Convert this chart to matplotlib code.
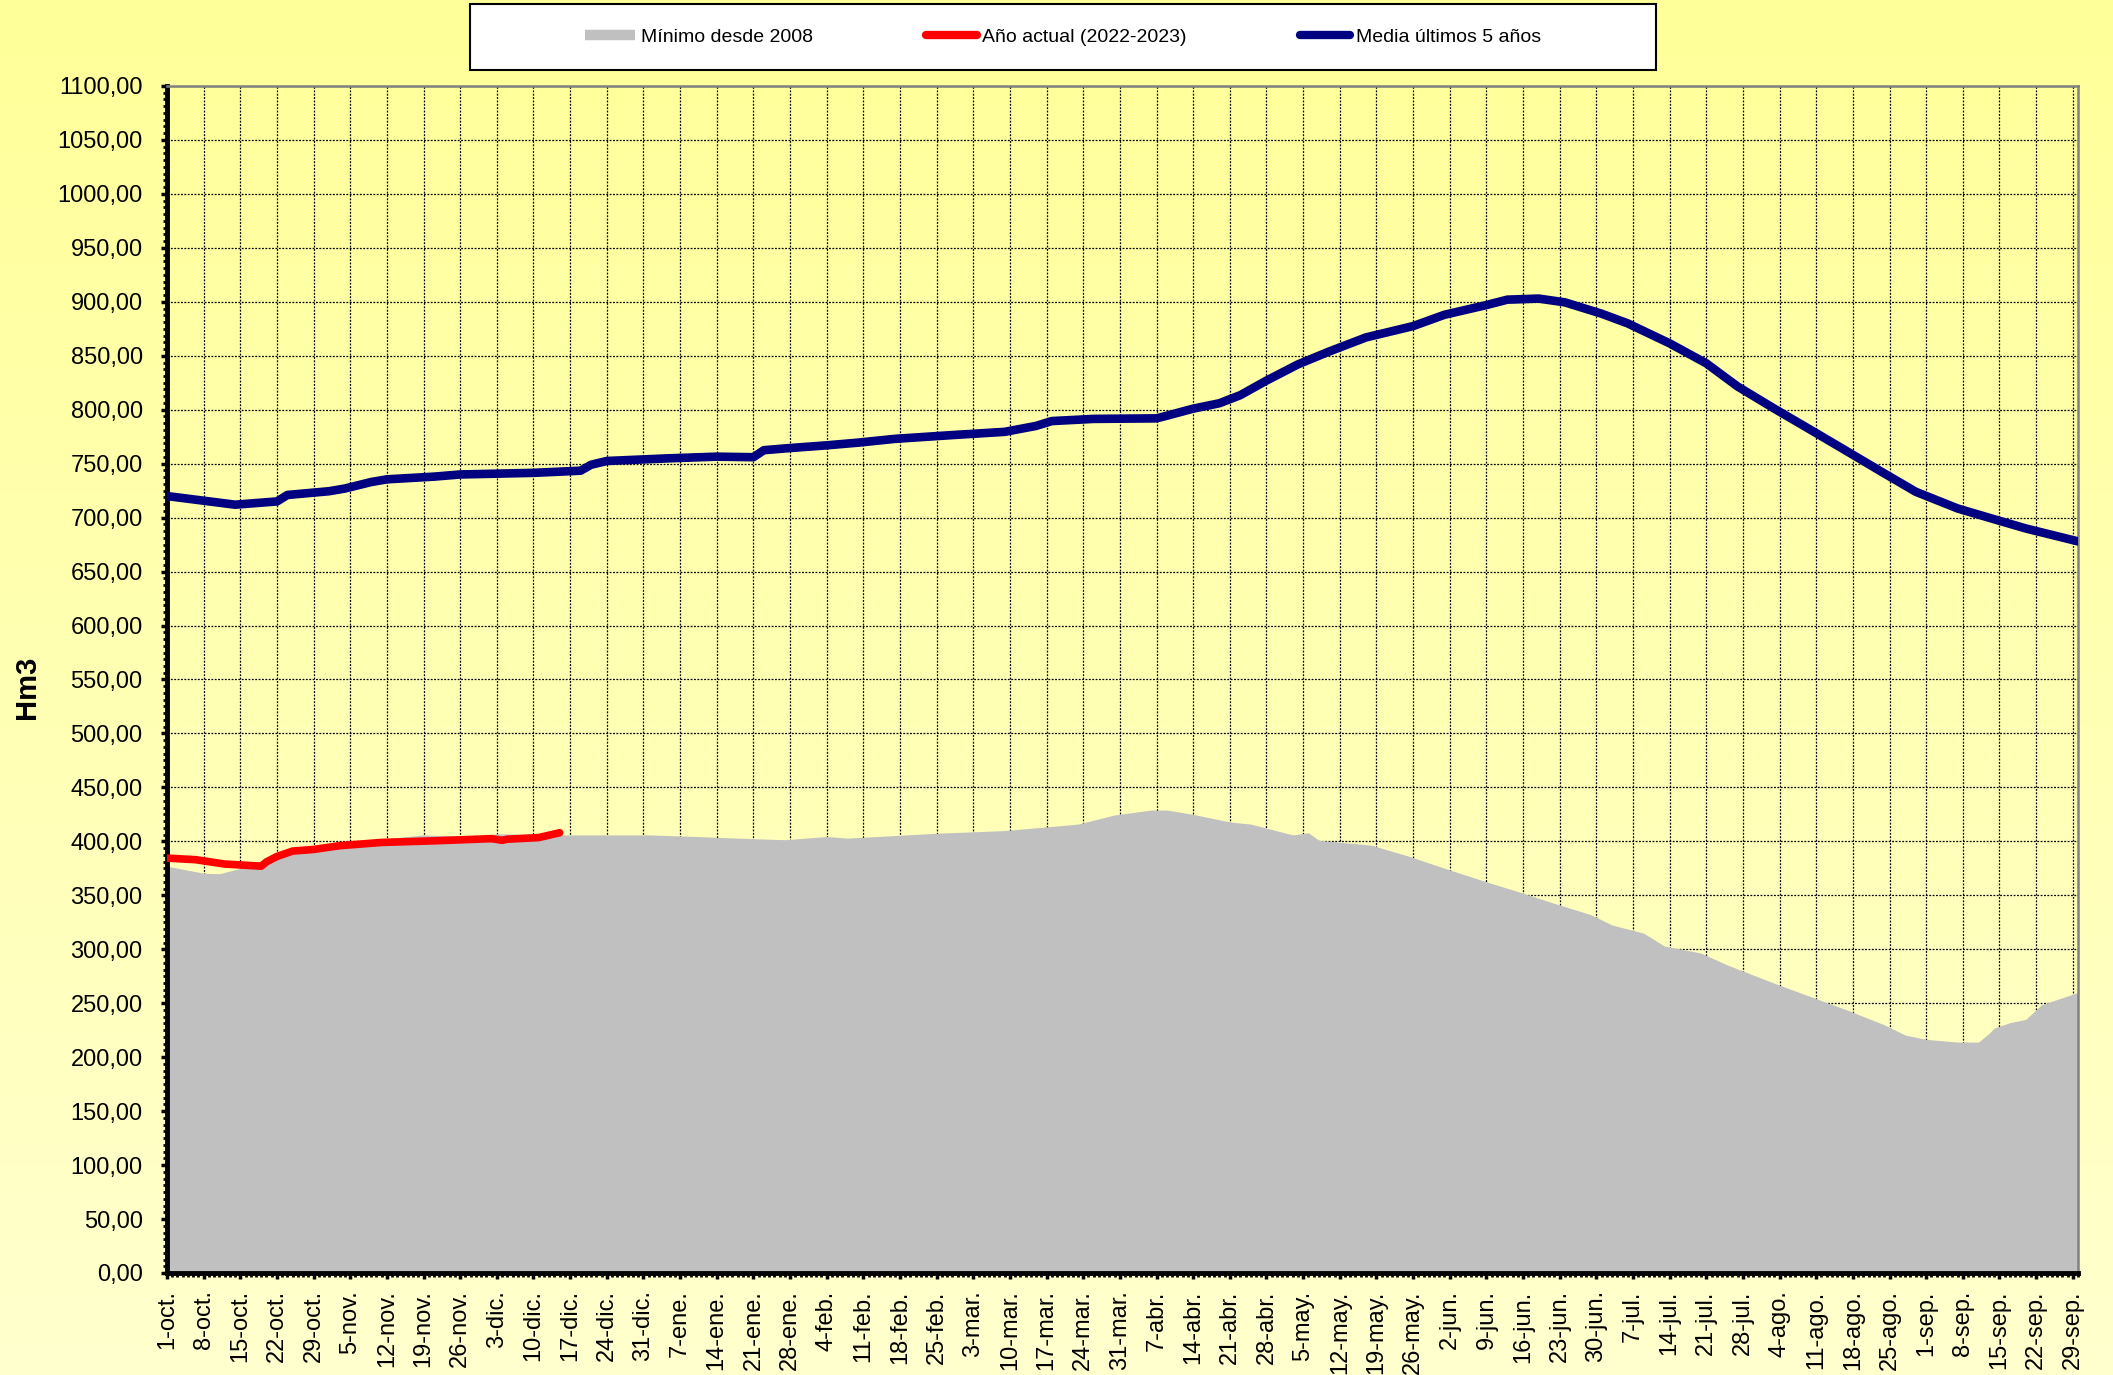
import numpy as np
import matplotlib
matplotlib.use("Agg")
import matplotlib.pyplot as plt
from matplotlib.lines import Line2D
from matplotlib.patches import Rectangle
from matplotlib.ticker import MultipleLocator

plt.rcParams['font.family'] = ['Liberation Sans', 'DejaVu Sans']

# ---------------- data (day index from 1-oct, value in Hm3) ----------------
media_days = [0, 13, 21, 23, 31, 34, 39, 42, 51, 56, 70, 79, 81, 84, 96, 105, 112, 114,
              119, 126, 132, 139, 150, 160, 166, 169, 177, 189, 191, 196, 201, 205, 210,
              216, 222, 229, 238, 244, 252, 256, 262, 267, 274, 279, 287, 294, 300, 307,
              313, 320, 328, 334, 342, 349, 355, 365]
media_vals = [720, 712, 715, 721, 724.5, 727, 733, 735.5, 738, 740, 741.5, 743.5, 749, 752.5,
              755, 756.5, 756, 762.5, 764.5, 767, 769.5, 773, 776.5, 779.5, 785, 789.5, 791.5,
              792, 794.5, 801, 806, 813.5, 827, 842, 854, 867, 877.5, 888, 897, 902, 903,
              899.5, 889, 880, 861.5, 843, 821.5, 801, 784, 764, 741, 724, 708.5, 698.5,
              690, 678]

minimo_days = [0, 7, 10, 14, 19, 24, 33, 43, 49, 58, 63, 75, 84, 92, 101, 109, 118, 126, 130,
               147, 160, 174, 181, 188, 191, 196, 203, 207, 215, 218, 220, 230, 237, 245, 252,
               259, 265, 272, 276, 282, 286, 293, 298, 307, 314, 321, 328, 332, 336, 342, 346,
               348, 349, 352, 355, 358, 365]
minimo_vals = [377, 370.5, 370, 375, 383.5, 390.5, 395, 403, 406, 404.5, 407, 406, 406, 406,
               404.5, 403, 401.5, 404.5, 403, 407.5, 410, 416, 424.5, 429, 429, 425, 418, 416,
               406, 408, 401, 396.5, 386.5, 373.5, 362.5, 352, 342.5, 332, 322.5, 315, 303,
               296.5, 285.5, 268.5, 256, 243.5, 230, 220.5, 216.5, 214, 214, 222, 227, 232,
               235, 248.5, 260]

actual_days = [0, 5.5, 11, 18, 19, 21, 24, 28, 33, 41, 51, 62, 64, 65, 71, 75]
actual_vals = [384.5, 383, 379, 377, 381, 386, 391, 392.5, 396, 399, 400.5, 402.5, 401, 402,
               403.5, 408]

tick_labels = ["1-oct.", "8-oct.", "15-oct.", "22-oct.", "29-oct.", "5-nov.", "12-nov.",
               "19-nov.", "26-nov.", "3-dic.", "10-dic.", "17-dic.", "24-dic.", "31-dic.",
               "7-ene.", "14-ene.", "21-ene.", "28-ene.", "4-feb.", "11-feb.", "18-feb.",
               "25-feb.", "3-mar.", "10-mar.", "17-mar.", "24-mar.", "31-mar.", "7-abr.",
               "14-abr.", "21-abr.", "28-abr.", "5-may.", "12-may.", "19-may.", "26-may.",
               "2-jun.", "9-jun.", "16-jun.", "23-jun.", "30-jun.", "7-jul.", "14-jul.",
               "21-jul.", "28-jul.", "4-ago.", "11-ago.", "18-ago.", "25-ago.", "1-sep.",
               "8-sep.", "15-sep.", "22-sep.", "29-sep."]

series_labels = ["Mínimo desde 2008", "Año actual (2022-2023)", "Media últimos 5 años"]

# ---------------- figure ----------------
W, H, DPI = 2113, 1375, 100
fig = plt.figure(figsize=(W / DPI, H / DPI), dpi=DPI)

# vertical gradient background
bg = fig.add_axes([0, 0, 1, 1], zorder=-10)
top_c = np.array([255, 255, 153]) / 255.0
bot_c = np.array([255, 255, 206]) / 255.0
g = np.linspace(0, 1, 256)[:, None, None]
img = top_c[None, None, :] + (bot_c - top_c)[None, None, :] * g
bg.imshow(img, aspect='auto', extent=[0, 1, 0, 1], origin='upper')
bg.set_axis_off()

ax = fig.add_axes([167 / W, (H - 1273) / H, (2078 - 167) / W, (1273 - 86) / H])
ax.patch.set_alpha(0)

ax.fill_between(minimo_days, 0, minimo_vals, color='#C0C0C0', linewidth=0, zorder=1)
ax.plot(media_days, media_vals, color='#000080', lw=6.2, solid_capstyle='round',
        solid_joinstyle='round', zorder=3)
ax.plot(actual_days, actual_vals, color='#FF0000', lw=5.5, solid_capstyle='round',
        solid_joinstyle='round', zorder=4)

ax.set_xlim(0, 365)
ax.set_ylim(0, 1100)

ax.set_xticks(np.arange(len(tick_labels)) * 7)
ax.set_xticklabels(tick_labels, rotation=90, fontsize=17)
ax.xaxis.set_minor_locator(MultipleLocator(1))

ax.set_yticks(np.arange(0, 1101, 50))
ax.set_yticklabels([f"{v:.2f}".replace('.', ',') for v in np.arange(0, 1101, 50)], fontsize=17)
ax.yaxis.set_minor_locator(MultipleLocator(6.25))

ax.tick_params(axis='both', which='major', direction='out', length=4.5, width=2.5, color='black')
ax.tick_params(axis='both', which='minor', direction='out', length=3, width=2, color='black')
ax.tick_params(axis='y', which='major', pad=13)
ax.tick_params(axis='x', which='major', pad=8)

ax.set_axisbelow(True)
ax.grid(True, which='major', color='black', linestyle=(0, (1.5, 1.2)), linewidth=0.9)

for s in ['left', 'bottom']:
    ax.spines[s].set_color('black')
    ax.spines[s].set_linewidth(3.5)
for s in ['top', 'right']:
    ax.spines[s].set_color('#808080')
    ax.spines[s].set_linewidth(1.8)

fig.text(27 / W, 1 - 687 / H, 'Hm3', rotation=90, fontsize=21, fontweight='bold',
         ha='center', va='center')

# legend box
fig.add_artist(Rectangle((470 / W, 1 - 70 / H), (1656 - 470) / W, 66 / H,
                         transform=fig.transFigure, facecolor='white', edgecolor='black',
                         lw=1.5, zorder=1))
handles = [Line2D([], [], color='#C0C0C0', lw=7.5, solid_capstyle='butt'),
           Line2D([], [], color='#FF0000', lw=6, solid_capstyle='round'),
           Line2D([], [], color='#000080', lw=6, solid_capstyle='round')]
leg = fig.legend(handles, series_labels, loc='center',
                 bbox_to_anchor=((470 + 1656) / 2 / W, 1 - 37 / H), ncol=3, frameon=False,
                 fontsize=14, handlelength=2.6, handletextpad=0.3, columnspacing=5.8)
leg.set_zorder(5)

fig.savefig('out.png', dpi=DPI)
